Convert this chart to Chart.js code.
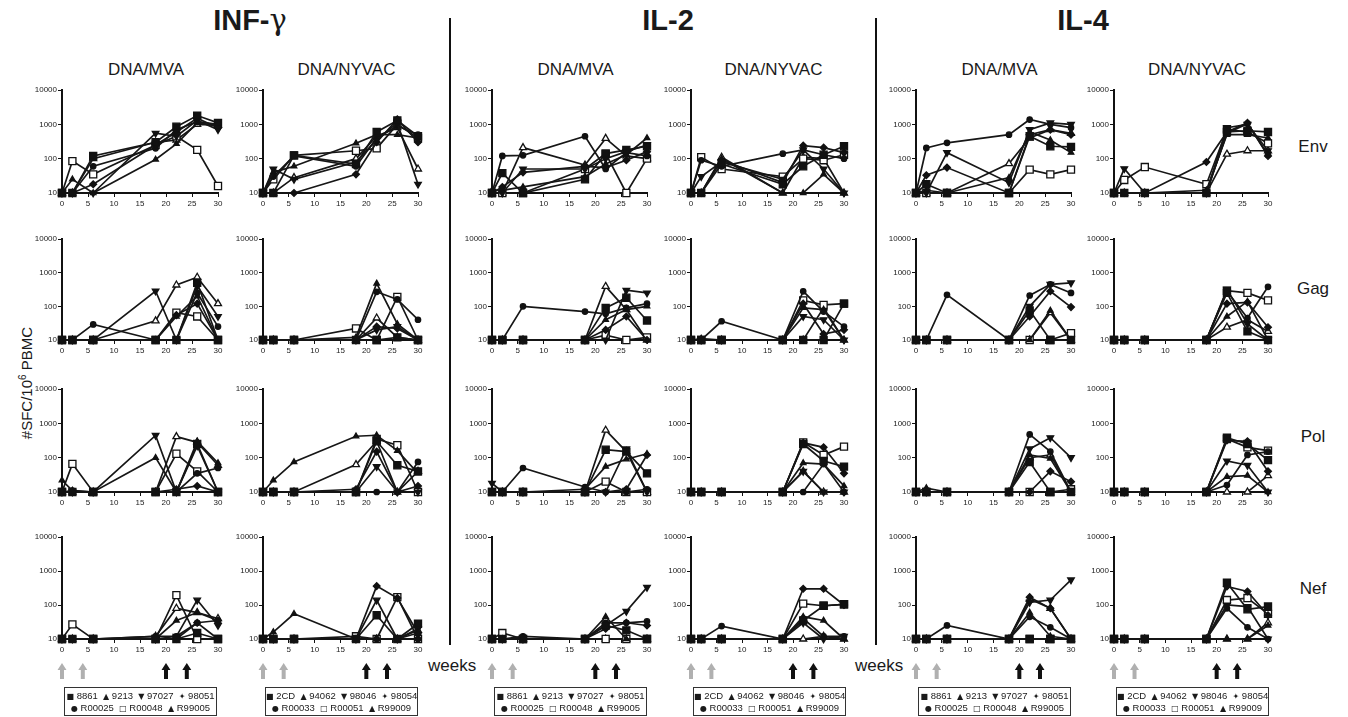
<!DOCTYPE html>
<html>
<head>
<meta charset="utf-8">
<script src="https://cdn.jsdelivr.net/npm/chart.js@4.4.1/dist/chart.umd.min.js"></script>
<style>
body { margin: 0; background: #fff; font-family: Arial, "Liberation Sans", Helvetica, sans-serif; color: #1a1a1a; }
#page { position: relative; width: 1348px; height: 717px; overflow: hidden; }
canvas.panel { position: absolute; }
.txt { position: absolute; white-space: nowrap; line-height: 1; }
.title { font-size: 29px; font-weight: bold; transform: translateX(-50%); top: 6px; }
.sub { font-size: 17px; transform: translateX(-50%); top: 61px; }
.rowlab { font-size: 17px; transform: translateX(-50%); }
.weeks { font-size: 17px; top: 657px; }
.ytitle { font-size: 15px; left: 26px; top: 383px; transform: translate(-50%, -50%) rotate(-90deg); }
.divider { position: absolute; width: 2px; background: #111; top: 18px; height: 627px; }
.legend { position: absolute; top: 687px; height: 29px; width: 153px; box-sizing: border-box;
          border: 1.5px solid #333; font-size: 9.5px; line-height: 11px; text-align: center; padding-top: 2px; white-space: nowrap; }
.legend span { font-family: "DejaVu Sans", sans-serif; font-size: 8px; }
</style>
</head>
<body>
<div id="page"></div>
<script>
// sampling weeks, immunisation weeks and axis ticks
const weeks = [0, 2, 6, 18, 22, 26, 30];
const primeWeeks = [0, 4];
const boostWeeks = [20, 24];
const xTicks = [0, 5, 10, 15, 20, 25, 30];
const yTicks = [10, 100, 1000, 10000];

const cytokines = ['INF-', 'IL-2', 'IL-4'];
const groups = ['DNA/MVA', 'DNA/NYVAC'];
const antigens = ['Env', 'Gag', 'Pol', 'Nef'];
const mvaMonkeys = ['8861', '9213', '97027', '98051', 'R00025', 'R00048', 'R99005'];
const nyvacMonkeys = ['2CD', '94062', '98046', '98054', 'R00033', 'R00051', 'R99009'];

// SFC per 10^6 PBMC, one row per monkey (same order as the id lists)
// INF-gamma
const ifnMvaEnv = [[10,10,120,300,850,1800,1100],[10,25,10,95,270,1100,900],[10,10,10,550,450,1300,700],[10,10,18,250,600,1500,800],[10,10,60,200,700,1200,1000],[10,85,35,250,450,180,16],[10,10,100,300,350,1000,950]];
const ifnMvaGag = [[10,10,10,10,10,500,10],[10,10,10,10,50,200,10],[10,10,10,285,10,400,50],[10,10,10,10,55,120,10],[10,10,29,10,10,250,25],[10,10,10,10,65,50,10],[10,10,10,37,430,730,120]];
const ifnMvaPol = [[10,10,10,10,10,250,10],[22,11,10,100,10,300,70],[10,10,10,445,10,220,10],[10,10,10,10,12,15,10],[10,11,10,10,10,35,50],[10,66,10,10,130,40,10],[10,10,10,10,410,280,60]];
const ifnMvaNef = [[10,10,10,10,10,15,10],[10,10,10,10,35,60,35],[10,10,10,10,12,140,25],[10,10,10,10,10,30,10],[10,10,10,12,12,30,35],[10,27,10,10,195,10,10],[10,10,10,12,80,60,40]];
const ifnNyvacEnv = [[10,10,125,70,600,1300,450],[10,40,60,280,500,500,400],[10,50,25,80,350,1100,18],[10,10,10,35,300,1400,300],[10,30,120,60,400,900,500],[10,25,125,170,200,1000,400],[10,10,28,100,450,800,50]];
const ifnNyvacGag = [[10,10,10,10,10,12,10],[10,10,10,12,480,30,10],[10,10,10,10,20,25,10],[10,10,10,10,25,22,10],[10,10,10,10,270,160,40],[10,10,10,22,10,190,10],[10,10,10,10,45,12,10]];
const ifnNyvacPol = [[10,10,10,10,300,60,40],[10,22,75,420,450,160,35],[10,10,10,10,55,10,10],[10,10,10,12,150,10,15],[10,10,10,10,10,10,75],[10,10,10,10,350,230,10],[10,10,10,63,300,10,40]];
const ifnNyvacNef = [[10,10,10,10,50,10,28],[10,16,55,10,10,10,15],[10,10,10,10,140,10,20],[10,10,10,10,360,160,15],[10,10,10,10,10,10,10],[10,10,10,12,10,170,10],[10,10,10,10,10,10,18]];
// IL-2
const il2MvaEnv = [[10,38,10,25,140,180,230],[12,12,15,30,70,130,400],[10,10,50,50,100,160,250],[10,15,40,60,55,90,160],[10,120,125,450,50,150,120],[10,10,10,50,140,10,100],[10,10,210,65,390,120,100]];
const il2MvaGag = [[10,10,10,10,90,180,38],[10,10,10,10,40,80,100],[10,10,10,10,10,300,250],[10,10,10,10,20,50,10],[10,10,100,70,60,90,120],[10,10,10,10,14,10,12],[10,10,10,10,390,80,10]];
const il2MvaPol = [[10,10,10,10,170,150,35],[10,10,10,12,55,90,130],[18,10,10,10,10,180,10],[10,10,10,10,10,12,120],[10,10,50,14,10,10,12],[10,10,10,10,20,10,10],[10,10,10,10,630,150,10]];
const il2MvaNef = [[10,10,10,10,25,18,10],[10,10,10,10,45,10,10],[10,10,10,10,25,65,330],[10,10,10,10,20,30,25],[10,10,12,10,30,30,33],[10,15,10,10,10,10,10],[10,10,10,10,10,10,10]];
const il2NyvacEnv = [[10,10,70,18,60,130,230],[10,10,100,10,10,35,10],[10,30,80,25,180,50,10],[10,10,90,20,240,210,150],[10,90,60,140,180,130,100],[10,110,50,30,100,90,130],[10,10,110,10,110,100,10]];
const il2NyvacGag = [[10,10,10,10,10,10,120],[10,11,10,10,90,80,10],[10,10,10,10,50,40,10],[10,10,10,10,120,15,20],[10,10,36,10,280,70,25],[10,10,10,10,150,110,120],[10,10,10,10,10,90,10]];
const il2NyvacPol = [[10,10,10,10,250,80,55],[10,10,10,10,70,65,15],[10,10,10,10,40,10,10],[10,10,10,10,270,200,35],[10,10,10,10,10,65,10],[10,10,10,10,280,120,210],[10,10,10,10,40,10,10]];
const il2NyvacNef = [[10,10,10,10,35,95,105],[10,10,10,10,45,35,10],[10,10,10,10,30,10,12],[10,10,10,10,300,300,100],[10,10,24,10,40,12,12],[10,10,10,10,110,95,105],[10,10,10,10,10,12,10]];
// IL-4
const il4MvaEnv = [[10,18,10,10,450,230,220],[10,12,10,28,600,350,150],[10,10,150,20,700,1100,1000],[10,33,55,10,500,700,500],[10,205,290,500,1380,1000,800],[10,10,10,10,48,35,48],[10,10,10,72,400,700,550]];
const il4MvaGag = [[10,10,10,10,75,10,10],[10,10,10,10,10,75,10],[10,10,10,10,100,450,500],[10,10,10,10,50,280,95],[10,10,220,10,210,450,250],[10,10,10,10,10,10,16],[10,10,10,10,10,65,10]];
const il4MvaPol = [[10,10,10,10,75,10,10],[10,13,10,10,120,95,10],[10,10,10,10,180,380,100],[10,10,10,10,10,40,20],[10,10,10,10,475,150,10],[10,10,10,10,10,10,12],[10,10,10,10,100,120,10]];
const il4MvaNef = [[10,10,10,10,10,10,10],[10,10,10,10,60,12,10],[10,10,10,10,120,140,550],[10,10,10,10,170,80,10],[10,10,25,10,45,22,10],[10,10,10,10,10,10,10],[10,10,10,10,150,80,10]];
const il4NyvacEnv = [[10,10,10,10,600,650,600],[10,10,10,12,500,500,400],[10,51,10,10,800,1000,170],[10,10,10,80,600,1100,120],[10,10,10,10,550,1050,130],[10,24,57,18,700,600,280],[10,10,10,10,135,170,170]];
const il4NyvacGag = [[10,10,10,10,250,18,10],[10,10,10,10,50,140,10],[10,10,10,10,320,30,10],[10,10,10,10,120,130,24],[10,10,10,10,280,45,380],[10,10,10,10,290,250,150],[10,10,10,10,24,40,18]];
const il4NyvacPol = [[10,10,10,10,380,250,85],[10,10,10,10,28,30,10],[10,10,10,10,80,60,10],[10,10,10,10,320,300,40],[10,10,10,10,16,120,150],[10,10,10,10,350,200,160],[10,10,10,10,10,10,30]];
const il4NyvacNef = [[10,10,10,10,450,75,90],[10,10,10,10,10,10,25],[10,10,10,10,100,90,10],[10,10,10,10,350,250,50],[10,10,10,10,80,22,10],[10,10,10,10,140,160,55],[10,10,10,10,10,10,30]];

// columns: cytokine x group, rows: antigen
const columns = [
  [ifnMvaEnv, ifnMvaGag, ifnMvaPol, ifnMvaNef],
  [ifnNyvacEnv, ifnNyvacGag, ifnNyvacPol, ifnNyvacNef],
  [il2MvaEnv, il2MvaGag, il2MvaPol, il2MvaNef],
  [il2NyvacEnv, il2NyvacGag, il2NyvacPol, il2NyvacNef],
  [il4MvaEnv, il4MvaGag, il4MvaPol, il4MvaNef],
  [il4NyvacEnv, il4NyvacGag, il4NyvacPol, il4NyvacNef]
];

// marker per monkey
const markers = [
  { style: 'rect', r: 5, fill: '#111', rot: 0, glyph: '■' },
  { style: 'triangle', r: 3.2, fill: '#111', rot: 0, glyph: '▲' },
  { style: 'triangle', r: 3.8, fill: '#111', rot: 180, glyph: '▼' },
  { style: 'rectRot', r: 3.4, fill: '#111', rot: 0, glyph: '✦' },
  { style: 'circle', r: 2.7, fill: '#111', rot: 0, glyph: '●' },
  { style: 'rect', r: 5, fill: '#fff', rot: 0, glyph: '□' },
  { style: 'triangle', r: 4, fill: '#fff', rot: 0, glyph: '▲' }
];

// page layout (pixels)
const colLeft = [62, 263, 492, 691, 916, 1114];
const colRight = [218, 418, 647, 844, 1071, 1268];
const rowTop = [90, 239, 389, 537];
const rowBottom = [193, 340, 492, 639];
const titleX = [250, 668, 1083];
const rowLabelY = [138, 280, 428, 580];

const page = document.getElementById('page');
function addText(cls, text, x, y) {
  const d = document.createElement('div');
  d.className = 'txt ' + cls;
  d.innerHTML = text;
  if (x !== null) d.style.left = x + 'px';
  if (y !== null) d.style.top = y + 'px';
  page.appendChild(d);
  return d;
}

cytokines.forEach((c, i) => {
  const t = i === 0 ? c + '<span style="font-weight:normal;font-family:\'DejaVu Serif\',serif">γ</span>' : c;
  addText('title', t, titleX[i], null);
});
for (let col = 0; col < 6; col++) {
  addText('sub', groups[col % 2], (colLeft[col] + colRight[col]) / 2 + 6, null);
}
antigens.forEach((a, r) => addText('rowlab', a, 1313, rowLabelY[r]));
addText('weeks', 'weeks', 428, null);
addText('weeks', 'weeks', 855, null);
addText('ytitle', '#SFC/10<sup style="font-size:10px">6</sup> PBMC', null, null);

[449, 875].forEach(x => {
  const d = document.createElement('div');
  d.className = 'divider';
  d.style.left = x + 'px';
  page.appendChild(d);
});

// dosing arrows under the bottom row, placed with the x scale
const arrowPlugin = {
  id: 'doses',
  afterDraw(chart) {
    const ctx = chart.ctx, xs = chart.scales.x, top = chart.chartArea.bottom + 24;
    const draw = (wk, color) => {
      const px = xs.getPixelForValue(wk);
      ctx.save();
      ctx.fillStyle = color;
      ctx.beginPath();
      ctx.moveTo(px, top);
      ctx.lineTo(px + 4.5, top + 7);
      ctx.lineTo(px + 2, top + 7);
      ctx.lineTo(px + 2, top + 16);
      ctx.lineTo(px - 2, top + 16);
      ctx.lineTo(px - 2, top + 7);
      ctx.lineTo(px - 4.5, top + 7);
      ctx.closePath();
      ctx.fill();
      ctx.restore();
    };
    primeWeeks.forEach(w => draw(w, '#b0b0b0'));
    boostWeeks.forEach(w => draw(w, '#111'));
  }
};

const L = 42, T = 8, R = 10, B = 20, ARROWS = 46;
const tickFont = { family: 'Arial, "Liberation Sans", sans-serif', size: 8 };

function makePanel(col, row) {
  const series = columns[col][row];
  const ids = col % 2 === 0 ? mvaMonkeys : nyvacMonkeys;
  const last = row === 3;
  const padB = last ? ARROWS : 0;
  const c = document.createElement('canvas');
  c.className = 'panel';
  c.width = L + (colRight[col] - colLeft[col]) + R;
  c.height = T + (rowBottom[row] - rowTop[row]) + B + padB;
  c.style.left = (colLeft[col] - L) + 'px';
  c.style.top = (rowTop[row] - T) + 'px';
  page.appendChild(c);

  const datasets = series.map((vals, i) => ({
    label: ids[i],
    data: weeks.map((w, j) => ({ x: w, y: vals[j] })),
    borderColor: '#161616',
    borderWidth: 1.7,
    pointStyle: markers[i].style,
    pointRadius: markers[i].r,
    pointRotation: markers[i].rot,
    pointBackgroundColor: markers[i].fill,
    pointBorderColor: '#111',
    pointBorderWidth: 1.3,
    tension: 0,
    fill: false,
    clip: false
  }));

  new Chart(c, {
    type: 'line',
    data: { datasets },
    options: {
      responsive: false,
      animation: false,
      events: [],
      layout: { padding: { left: 0, top: T, right: R, bottom: padB } },
      plugins: { legend: { display: false }, tooltip: { enabled: false } },
      scales: {
        x: {
          type: 'linear', min: 0, max: 30,
          afterBuildTicks: s => { s.ticks = xTicks.map(v => ({ value: v })); },
          afterFit: s => { s.height = B; s.paddingLeft = 0; s.paddingRight = 0; },
          ticks: { font: tickFont, color: '#222', padding: 2, maxRotation: 0, autoSkip: false },
          grid: { drawOnChartArea: false, tickLength: 4, color: '#111', lineWidth: 1 },
          border: { color: '#111', width: 2 }
        },
        y: {
          type: 'logarithmic', min: 10, max: 10000,
          afterBuildTicks: s => { s.ticks = yTicks.map(v => ({ value: v })); },
          afterFit: s => { s.width = L; s.paddingTop = 0; s.paddingBottom = 0; },
          ticks: { font: tickFont, color: '#222', padding: 1, autoSkip: false, callback: v => String(v) },
          grid: { drawOnChartArea: false, tickLength: 4, color: '#111', lineWidth: 1 },
          border: { color: '#111', width: 2 }
        }
      }
    },
    plugins: last ? [arrowPlugin] : []
  });
}

for (let col = 0; col < 6; col++) {
  for (let row = 0; row < 4; row++) makePanel(col, row);
  const ids = col % 2 === 0 ? mvaMonkeys : nyvacMonkeys;
  const g = i => '<span>' + markers[i].glyph + '</span> ' + ids[i];
  const lg = document.createElement('div');
  lg.className = 'legend';
  lg.style.left = (colLeft[col] + 2) + 'px';
  lg.innerHTML = [0, 1, 2, 3].map(g).join('&nbsp; ') + '<br>' + [4, 5, 6].map(g).join('&nbsp; ');
  page.appendChild(lg);
}
</script>
</body>
</html>
